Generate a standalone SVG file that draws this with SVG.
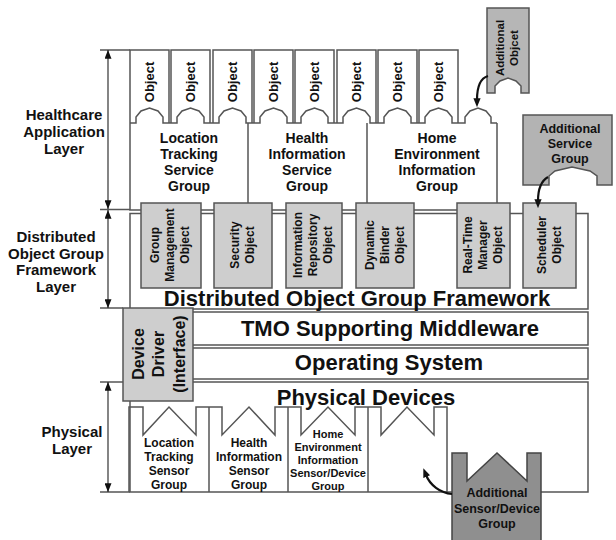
<svg xmlns="http://www.w3.org/2000/svg" width="616" height="540" viewBox="0 0 616 540">
<defs>
<style>
.ln{fill:none;stroke:#555;stroke-width:1.5}
.gb{fill:#cecece;stroke:#555;stroke-width:1.5}
text{font-family:"Liberation Sans",Arial,sans-serif;font-weight:bold;fill:#111;text-anchor:middle}
.big{font-size:22px}
.lay{font-size:15px}
.obj{font-size:13px}
.svc{font-size:14px}
.fo{font-size:12px}
.sn{font-size:12px}
.sn2{font-size:11px}
.dd{font-size:16px}
.ad{font-size:12.5px}
.arr{fill:none;stroke:#111;stroke-width:2.2}
.la{fill:none;stroke:#333;stroke-width:1.2}
</style>
<marker id="ah" viewBox="0 0 10 8" refX="2" refY="4" markerWidth="9" markerHeight="7.5" markerUnits="userSpaceOnUse" orient="auto"><path d="M0,0 L10,4 L0,8 Z" fill="#111"/></marker>
<marker id="lah" viewBox="0 0 10 8" refX="10" refY="4" markerWidth="10" markerHeight="7" markerUnits="userSpaceOnUse" orient="auto-start-reverse"><path d="M0,0 L10,4 L0,8 Z" fill="#111"/></marker>
</defs>
<rect width="616" height="540" fill="#fff"/>

<g id="layer-labels">
<path class="ln" d="M100,50 H130 M100,209.5 H130 M100,308 H123 M100,382 H123 M100,492 H130"/>
<path class="la" d="M108,50 V209" marker-start="url(#lah)" marker-end="url(#lah)"/>
<path class="la" d="M108,210 V308" marker-start="url(#lah)" marker-end="url(#lah)"/>
<path class="la" d="M108,382 V492" marker-start="url(#lah)" marker-end="url(#lah)"/>
<text class="lay" x="64" y="120">Healthcare</text>
<text class="lay" x="64" y="137">Application</text>
<text class="lay" x="64" y="154">Layer</text>
<text class="lay" x="56" y="242">Distributed</text>
<text class="lay" x="56" y="259">Object Group</text>
<text class="lay" x="56" y="275">Framework</text>
<text class="lay" x="56" y="292">Layer</text>
<text class="lay" x="72" y="437">Physical</text>
<text class="lay" x="72" y="454">Layer</text>
</g>

<g id="objects">
<path class="ln" d="M130,123 V50 H169 V123 M171,123 V50 H210 V123 M213,123 V50 H252 V123 M254,123 V50 H293 V123 M295,123 V50 H334 V123 M337,123 V50 H376 V123 M378,123 V50 H417 V123 M419,123 V50 H458 V123"/>
<text class="obj" transform="translate(149.5,82) rotate(-90)" y="4.5">Object</text>
<text class="obj" transform="translate(190.5,82) rotate(-90)" y="4.5">Object</text>
<text class="obj" transform="translate(232.5,82) rotate(-90)" y="4.5">Object</text>
<text class="obj" transform="translate(273.5,82) rotate(-90)" y="4.5">Object</text>
<text class="obj" transform="translate(314.5,82) rotate(-90)" y="4.5">Object</text>
<text class="obj" transform="translate(356.5,82) rotate(-90)" y="4.5">Object</text>
<text class="obj" transform="translate(397.5,82) rotate(-90)" y="4.5">Object</text>
<text class="obj" transform="translate(438.5,82) rotate(-90)" y="4.5">Object</text>
</g>

<g id="service-groups">
<path class="ln" d="M130,123 H136 V117 L141,111 L149.5,108 L158,111 L163,117 V123 H177 V117 L182,111 L190.5,108 L199,111 L204,117 V123 H219 V117 L224,111 L232.5,108 L241,111 L246,117 V123 H260 V117 L265,111 L273.5,108 L282,111 L287,117 V123 H301 V117 L306,111 L314.5,108 L323,111 L328,117 V123 H343 V117 L348,111 L356.5,108 L365,111 L370,117 V123 H384 V117 L389,111 L397.5,108 L406,111 L411,117 V123 H425 V117 L430,111 L438.5,108 L447,111 L452,117 V123 H465 V117 L470,111 L478,108 L486,111 L491,117 V123 H497"/>
<path class="ln" d="M130,123 V210 H497 V123 M248,123 V210 M367,123 V210"/>
<text class="svc" x="189" y="143">Location</text>
<text class="svc" x="189" y="159">Tracking</text>
<text class="svc" x="189" y="175">Service</text>
<text class="svc" x="189" y="191">Group</text>
<text class="svc" x="307" y="143">Health</text>
<text class="svc" x="307" y="159">Information</text>
<text class="svc" x="307" y="175">Service</text>
<text class="svc" x="307" y="191">Group</text>
<text class="svc" x="437" y="143">Home</text>
<text class="svc" x="437" y="159">Environment</text>
<text class="svc" x="437" y="175">Information</text>
<text class="svc" x="437" y="191">Group</text>
</g>

<g id="framework">
<rect class="ln" x="130" y="213.5" width="458" height="95.5"/>
<text class="big" x="357" y="306">Distributed Object Group Framework</text>
</g>

<g id="framework-objects">
<rect class="gb" x="141" y="203" width="60" height="85"/>
<rect class="gb" x="214" y="203" width="58" height="85"/>
<rect class="gb" x="286" y="203" width="56" height="85"/>
<rect class="gb" x="356" y="203" width="58" height="85"/>
<rect class="gb" x="457" y="203" width="53" height="85"/>
<rect class="gb" x="523" y="203" width="53" height="85"/>
<text class="fo" transform="translate(155,245) rotate(-90)" y="4">Group</text>
<text class="fo" transform="translate(170,245) rotate(-90)" y="4">Management</text>
<text class="fo" transform="translate(185,245) rotate(-90)" y="4">Object</text>
<text class="fo" transform="translate(235,245) rotate(-90)" y="4">Security</text>
<text class="fo" transform="translate(250,245) rotate(-90)" y="4">Object</text>
<text class="fo" transform="translate(298,245) rotate(-90)" y="4">Information</text>
<text class="fo" transform="translate(313,245) rotate(-90)" y="4">Repository</text>
<text class="fo" transform="translate(328,245) rotate(-90)" y="4">Object</text>
<text class="fo" transform="translate(370,245) rotate(-90)" y="4">Dynamic</text>
<text class="fo" transform="translate(385,245) rotate(-90)" y="4">Binder</text>
<text class="fo" transform="translate(400,245) rotate(-90)" y="4">Object</text>
<text class="fo" transform="translate(468,245) rotate(-90)" y="4">Real-Time</text>
<text class="fo" transform="translate(483,245) rotate(-90)" y="4">Manager</text>
<text class="fo" transform="translate(498,245) rotate(-90)" y="4">Object</text>
<text class="fo" transform="translate(542,245) rotate(-90)" y="4">Scheduler</text>
<text class="fo" transform="translate(557,245) rotate(-90)" y="4">Object</text>
</g>

<g id="middleware">
<rect class="ln" x="130" y="312" width="458" height="33"/>
<text class="big" x="390" y="336">TMO Supporting Middleware</text>
</g>

<g id="operating-system">
<rect class="ln" x="130" y="348" width="458" height="31"/>
<text class="big" x="389" y="370">Operating System</text>
</g>

<g id="physical-devices">
<rect class="ln" x="130" y="382" width="458" height="110"/>
<text class="big" x="366" y="405">Physical Devices</text>
</g>

<g id="device-driver">
<rect class="gb" x="123" y="308" width="70" height="93"/>
<text class="dd" transform="translate(138,354) rotate(-90)" y="5.5">Device</text>
<text class="dd" transform="translate(158,354) rotate(-90)" y="5.5">Driver</text>
<text class="dd" transform="translate(179,354) rotate(-90)" y="5.5">(Interface)</text>
</g>

<g id="sensor-groups">
<path class="ln" d="M129,492 V407 H143 V435 L169,407 L196,435 V407 H209 V492 M209,407 H222 V435 L249,407 L275,435 V407 H288 V492 M288,407 H301 V435 L328,407 L355,435 V407 H368 V492 M368,407 H381 V435 L407,407 L434,435 V407 H447 V492"/>
<text class="sn" x="169" y="447">Location</text>
<text class="sn" x="169" y="461">Tracking</text>
<text class="sn" x="169" y="475">Sensor</text>
<text class="sn" x="169" y="489">Group</text>
<text class="sn" x="249" y="447">Health</text>
<text class="sn" x="249" y="461">Information</text>
<text class="sn" x="249" y="475">Sensor</text>
<text class="sn" x="249" y="489">Group</text>
<text class="sn2" x="328" y="438">Home</text>
<text class="sn2" x="328" y="451">Environment</text>
<text class="sn2" x="328" y="464">Information</text>
<text class="sn2" x="328" y="477">Sensor/Device</text>
<text class="sn2" x="328" y="490">Group</text>
</g>

<g id="additional-object">
<path d="M487,8 H529 V93 H521 V86 L516,81 L508,78 L500,81 L495,86 V93 H487 Z" fill="#b6b6b6" stroke="#555" stroke-width="1.5"/>
<text class="ad" style="font-size:11.5px" transform="translate(500,48) rotate(-90)" y="4">Additional</text>
<text class="ad" style="font-size:11.5px" transform="translate(514,48) rotate(-90)" y="4">Objcet</text>
</g>

<g id="additional-service-group">
<path d="M523,115 H612 V185 H597 V176 L590,171 L572,167 L555,171 L549,176 V185 H523 Z" fill="#b3b3b3" stroke="#555" stroke-width="1.5"/>
<text class="ad" x="570" y="133">Additional</text>
<text class="ad" x="570" y="148">Service</text>
<text class="ad" x="570" y="163">Group</text>
</g>

<g id="additional-sensor-group">
<path d="M452,541 V453 H467 V481 L497,453 L527,481 V453 H541 V541 Z" fill="#8f8f8f" stroke="#444" stroke-width="1.5"/>
<text class="ad" x="497" y="497">Additional</text>
<text class="ad" x="497" y="513">Sensor/Device</text>
<text class="ad" x="497" y="528">Group</text>
</g>

<g id="connectors">
<path class="arr" d="M488,76 C481,78 477,87 477,100" marker-end="url(#ah)"/>
<path class="arr" d="M548,177 C541,181 538,190 538,201" marker-end="url(#ah)"/>
<path class="arr" d="M452,494 C440,493 430,485 426,475" marker-end="url(#ah)"/>
</g>
</svg>
